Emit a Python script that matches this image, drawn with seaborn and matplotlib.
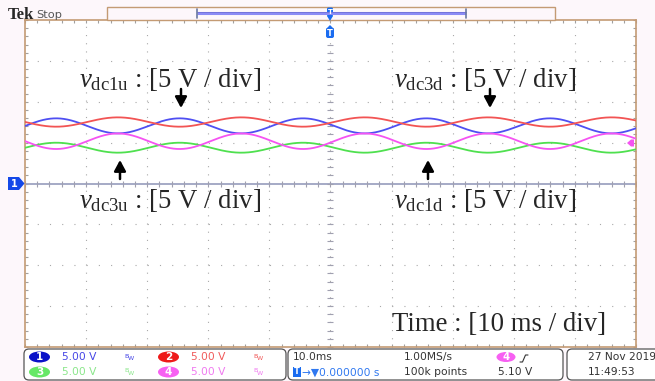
import numpy as np
import pandas as pd
import matplotlib
matplotlib.use("Agg")
import matplotlib.pyplot as plt
import seaborn as sns
from matplotlib.patches import FancyBboxPatch, Ellipse, Polygon, Rectangle

channels = ["CH1", "CH2", "CH3", "CH4"]
mean_volts = [7.05, 7.52, 4.38, 5.17]      # dc level of each trace
amp_volts = [0.92, 0.57, 0.61, 0.95]       # ripple amplitude
peak_sign = [-1, 1, -1, 1]                 # +1 crest / -1 trough at ref time
ref_time_ms = -34.8
period_ms = 20.2
volt_div = 5.0
time_div_ms = 10.0
n_xdiv = 10
n_ydiv = 8

ch_scale = ["5.00 V", "5.00 V", "5.00 V", "5.00 V"]
ch_labels = ["1", "2", "3", "4"]
timebase = "10.0ms"
sample_rate = "1.00MS/s"
record_len = "100k points"
trig_delay = "0.000000 s"
trig_level = "5.10 V"
trig_src = "4"
date_str = "27 Nov 2019"
time_str = "11:49:53"

labels_top = [r"$v_{\mathrm{dc1u}}$ : [5 V / div]", r"$v_{\mathrm{dc3d}}$ : [5 V / div]"]
labels_bot = [r"$v_{\mathrm{dc3u}}$ : [5 V / div]", r"$v_{\mathrm{dc1d}}$ : [5 V / div]"]
time_label = "Time : [10 ms / div]"

# ---------------- styling ----------------
sns.set_style("white")
plt.rcParams["lines.scale_dashes"] = False
plt.rcParams["mathtext.fontset"] = "custom"
plt.rcParams["mathtext.rm"] = "Liberation Serif"
plt.rcParams["mathtext.it"] = "Liberation Serif:italic"
plt.rcParams["font.family"] = ["DejaVu Sans"]

W, H = 655, 381
fig = plt.figure(figsize=(W / 100, H / 100), dpi=100)
fig.patch.set_facecolor("#fdf7fb")

L, R, T, B = 25, 636, 20, 347
ax = fig.add_axes([L / W, 1 - B / H, (R - L) / W, (B - T) / H])
ax.set_facecolor("white")

xmax = n_xdiv / 2 * time_div_ms
ymax = n_ydiv / 2 * volt_div
t = np.linspace(-xmax, xmax, 2001)
rows = []
for ch, m, a, s in zip(channels, mean_volts, amp_volts, peak_sign):
    v = m + s * a * np.cos(2 * np.pi * (t - ref_time_ms) / period_ms)
    rows.append(pd.DataFrame({"t": t, "v": v, "ch": ch}))
df = pd.concat(rows, ignore_index=True)

palette = {"CH1": "#4f4ff2", "CH2": "#f25454", "CH3": "#4fe04f", "CH4": "#f553f2"}

# grid
gcol = "#a9a9a9"
for k in range(-n_ydiv // 2 + 1, n_ydiv // 2):
    if k == 0:
        continue
    ax.plot([-xmax, xmax], [k * volt_div] * 2, color=gcol, lw=0.8,
            dashes=(0.8, 8.0), zorder=1)
for k in range(-n_xdiv // 2 + 1, n_xdiv // 2):
    ax.plot([k * time_div_ms] * 2, [-ymax, ymax], color=gcol, lw=0.8,
            dashes=(0.8, 5.1), zorder=1)
# center axes with ticks
ax.axhline(0, color="#9ea4c2", lw=1.3, zorder=1.5)
xt = np.arange(-xmax, xmax + 0.01, time_div_ms / 5)
yt = np.arange(-ymax, ymax + 0.01, volt_div / 5)
ax.plot(xt, np.zeros_like(xt), ls="none", marker="|", ms=5, mew=0.8,
        color="#a0a0b0", zorder=1.5)
ax.plot(np.zeros_like(yt), yt, ls="none", marker="_", ms=5, mew=0.8,
        color="#a0a0b0", zorder=1.5)

sns.lineplot(data=df, x="t", y="v", hue="ch", palette=palette, legend=False,
             lw=1.3, ax=ax, zorder=3, estimator=None, sort=False)

ax.set_xlim(-xmax, xmax)
ax.set_ylim(-ymax, ymax)
ax.set_xticks(xt)
ax.set_yticks(yt)
ax.tick_params(direction="in", length=2.5, width=0.8, color="#a0a0a0",
               labelbottom=False, labelleft=False, top=True, right=True,
               bottom=True, left=True)
ax.set_xlabel("")
ax.set_ylabel("")
for sp in ax.spines.values():
    sp.set_color("#c49b74")
    sp.set_linewidth(1.2)
    sp.set_visible(True)

# ---------------- overlay in pixel coordinates ----------------
ov = fig.add_axes([0, 0, 1, 1], zorder=5)
ov.set_xlim(0, W)
ov.set_ylim(H, 0)
ov.axis("off")
ov.patch.set_visible(False)

serif = "Liberation Serif"
fs_ann = 19.3
ov.text(79, 87, labels_top[0], fontsize=fs_ann, family=serif, va="baseline")
ov.text(394, 87, labels_top[1], fontsize=fs_ann, family=serif, va="baseline")
ov.text(79, 208, labels_bot[0], fontsize=fs_ann, family=serif, va="baseline")
ov.text(394, 208, labels_bot[1], fontsize=fs_ann, family=serif, va="baseline")
ov.text(392, 331, time_label, fontsize=fs_ann, family=serif, va="baseline")

ap = dict(arrowstyle="-|>,head_width=0.35,head_length=0.65", color="black",
          lw=1.8, shrinkA=0, shrinkB=0)
for x0, y_tail, y_head in [(181, 89, 108), (490, 89, 108),
                           (120, 179, 160), (428, 179, 160)]:
    ov.annotate("", xy=(x0, y_head), xytext=(x0, y_tail), arrowprops=ap)

# Tek Stop
ov.text(8, 19, "Tek", fontsize=12, family=serif, weight="bold", va="baseline")
ov.text(36, 18.5, "Stop", fontsize=8.2, color="#555555", va="baseline")

# top record bar
ov.add_patch(Rectangle((107, 7), 448, 13, facecolor="#fdf7fb",
                       edgecolor="#c49b74", lw=1.0, zorder=1))
ov.plot([197, 466], [13, 13], color="#8b8bf5", lw=2.2, solid_capstyle="butt")
ov.plot([197, 466], [11.5, 11.5], color="#6a6ad0", lw=0.5)
ov.plot([197, 197], [9, 18], color="#6a78a0", lw=1.2)
ov.plot([466, 466], [9, 18], color="#6a78a0", lw=1.2)
# trigger position markers
ov.add_patch(FancyBboxPatch((327, 7.5), 6, 9, boxstyle="round,pad=0,rounding_size=1.5",
                            facecolor="#1a6cf0", edgecolor="none"))
ov.add_patch(Polygon([(327, 16), (333, 16), (330, 21)], facecolor="#1a6cf0",
                     edgecolor="none"))
ov.text(330, 12.5, "T", fontsize=5, color="white", ha="center", va="center",
        weight="bold")
ov.add_patch(FancyBboxPatch((326, 28), 8, 10, boxstyle="round,pad=0,rounding_size=2",
                            facecolor="#1a6cf0", edgecolor="none"))
ov.add_patch(Polygon([(326, 29), (334, 29), (330, 25)], facecolor="#1a6cf0",
                     edgecolor="none"))
ov.text(330, 33.5, "T", fontsize=6, color="white", ha="center", va="center",
        weight="bold")

# channel 1 ground marker
ov.add_patch(Polygon([(8, 177), (19, 177), (24.5, 183.5), (19, 190), (8, 190)],
                     closed=True, facecolor="#1448e8", edgecolor="none"))
ov.text(14, 184, ch_labels[0], fontsize=7, color="white", ha="center",
        va="center", weight="bold")
# trigger level marker (magenta)
ov.add_patch(Polygon([(627, 143), (631, 139.5), (634, 139.5), (634, 146.5), (631, 146.5)],
                     closed=True, facecolor="#f553f2", edgecolor="none"))

# ---------------- status bar ----------------
def box(x0, x1, y0=349, y1=380):
    ov.add_patch(FancyBboxPatch((x0, y0), x1 - x0, y1 - y0,
                                boxstyle="round,pad=0,rounding_size=5",
                                facecolor="white", edgecolor="#555555", lw=0.9))

box(24, 286)
box(288, 563)
box(567, 670)

badge_col = ["#0a12c8", "#ee1a1a", "#66e866", "#f760f2"]
text_col = ["#4646e6", "#f05a5a", "#8ae68a", "#f07af0"]
badge_pos = [(39.5, 357), (168.5, 357), (39.5, 372), (168.5, 372)]
fs_s = 7.7
for i in range(4):
    bx, by = badge_pos[i]
    ov.add_patch(Ellipse((bx, by), 21, 11, facecolor=badge_col[i], edgecolor="none"))
    ov.text(bx, by + 0.3, ch_labels[i], fontsize=7.5, color="white", ha="center",
            va="center", weight="bold")
    ov.text(bx + 22.5, by + 0.3, ch_scale[i], fontsize=fs_s, color=text_col[i],
            va="center")
    ov.text(bx + 85, by - 1, "B", fontsize=4.5, color=text_col[i], va="center")
    ov.text(bx + 88, by + 1.5, "W", fontsize=4.5, color=text_col[i], va="center")

dark = "#333333"
ov.text(293, 357.3, timebase, fontsize=fs_s, color=dark, va="center")
ov.add_patch(Rectangle((293, 366.5), 8, 10, facecolor="#1a6cf0", edgecolor="none"))
ov.text(297, 371.8, "T", fontsize=6, color="white", ha="center", va="center",
        weight="bold")
ov.text(302, 372.3, "\u2192\u25bc" + trig_delay, fontsize=fs_s, color="#2f78f0",
        va="center")
ov.text(404, 357.3, sample_rate, fontsize=fs_s, color=dark, va="center")
ov.text(404, 372.3, record_len, fontsize=fs_s, color=dark, va="center")
ov.add_patch(Ellipse((506, 357), 19, 10, facecolor="#f760f2", edgecolor="none"))
ov.text(506, 357.3, trig_src, fontsize=7.3, color="white", ha="center", va="center",
        weight="bold")
ov.plot([520, 522.5, 525.5, 528], [362, 362, 355, 355], color=dark, lw=0.8)
ov.text(498, 372.3, trig_level, fontsize=fs_s, color=dark, va="center")
ov.text(588, 357.3, date_str, fontsize=fs_s, color=dark, va="center")
ov.text(588, 372.3, time_str, fontsize=fs_s, color=dark, va="center")

fig.savefig("out.png", dpi=100, facecolor=fig.get_facecolor())
